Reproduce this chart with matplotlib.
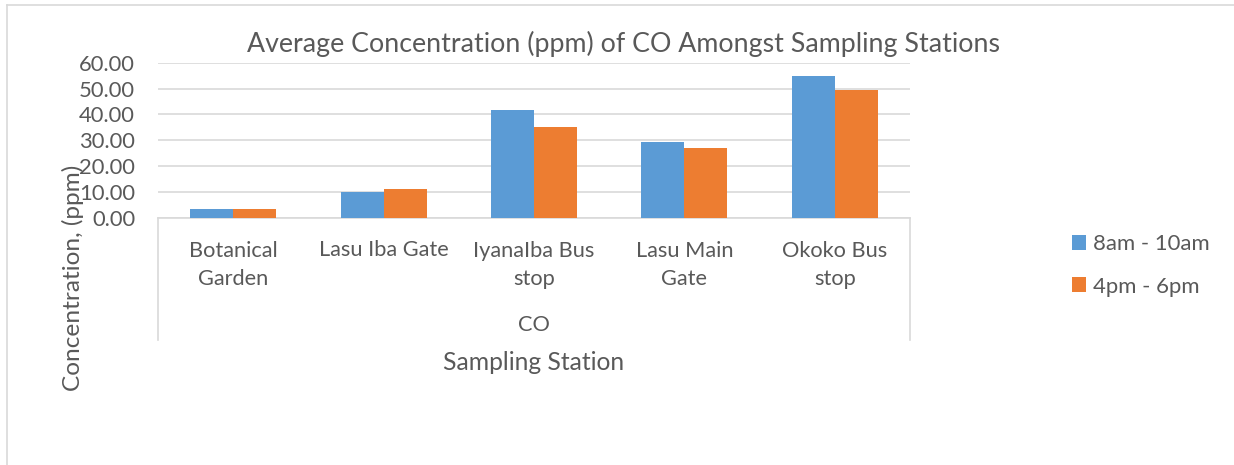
import matplotlib.pyplot as plt
import numpy as np
from matplotlib.lines import Line2D

# --- Data ---
stations = ["Botanical\nGarden", "Lasu Iba Gate", "IyanaIba Bus\nstop", "Lasu Main\nGate", "Okoko Bus\nstop"]
morning = [3.5, 10.1, 41.8, 29.4, 54.9]
evening = [3.4, 11.1, 35.0, 27.0, 49.6]
series_names = ["8am - 10am", "4pm - 6pm"]
group_label = "CO"
yticks = [0, 10, 20, 30, 40, 50, 60]

W, H = 1234, 465
BLUE = "#5B9BD5"
ORANGE = "#ED7D31"
TXT = "#595959"
GRID = "#D9D9D9"
FONT = "Lato"

plt.rcParams["font.family"] = [FONT, "DejaVu Sans"]

fig = plt.figure(figsize=(W / 100, H / 100), dpi=100)


def fx(px):
    return px / W


def fy(py):
    return 1 - py / H


# plot area in pixels
L, R, T, B = 158, 910, 62.7, 217.7
ax = fig.add_axes([fx(L), fy(B), fx(R) - fx(L), fy(T) - fy(B)])

x = np.arange(len(stations))
bw = 0.286
ax.bar(x - bw / 2, morning, bw, color=BLUE, label=series_names[0], zorder=3)
ax.bar(x + bw / 2, evening, bw, color=ORANGE, label=series_names[1], zorder=3)

ax.set_xlim(-0.5, len(stations) - 0.5)
ax.set_ylim(0, 60)
ax.set_yticks(yticks)
ax.set_yticklabels([f"{v:.2f}" for v in yticks])
ax.set_xticks([])
ax.tick_params(axis="y", length=0, pad=16.5, labelsize=15.8, labelcolor=TXT)
ax.grid(axis="y", color=GRID, linewidth=1.2, zorder=0)
for s in ["top", "right", "left"]:
    ax.spines[s].set_visible(False)
ax.spines["bottom"].set_color(GRID)
ax.spines["bottom"].set_linewidth(1.2)

# category labels (first line sits at y=250 px)
for i, name in enumerate(stations):
    cx = L + (i + 0.5) * (R - L) / len(stations)
    cy = 265 if "\n" in name else 250
    fig.text(fx(cx), fy(cy), name, ha="center", va="center", fontsize=15.7,
             color=TXT, linespacing=1.45)

# group bracket lines
for px in (L, R):
    fig.add_artist(Line2D([fx(px), fx(px)], [fy(B), fy(340)], color=GRID, linewidth=1.2))

fig.text(fx((L + R) / 2), fy(325), group_label, ha="center", va="center", fontsize=15.7, color=TXT)
fig.text(fx((L + R) / 2), fy(362), "Sampling Station", ha="center", va="center", fontsize=17.7, color=TXT)
fig.text(fx(73), fy(278), "Concentration, (ppm)", ha="center", va="center", rotation=90,
         fontsize=17.6, color=TXT)
fig.text(fx(623), fy(44), "Average Concentration (ppm) of CO Amongst Sampling Stations",
         ha="center", va="center", fontsize=19.3, color=TXT)

# legend
leg = fig.legend(loc="center left", bbox_to_anchor=(fx(1072), fy(265.5)), frameon=False,
                 fontsize=15.9, handlelength=0.64, handleheight=0.64, handletextpad=0.3,
                 labelspacing=1.0, labelcolor=TXT, borderaxespad=0, borderpad=0)

# outer border (top and left)
fig.add_artist(Line2D([fx(7), 1], [fy(5), fy(5)], color=GRID, linewidth=1.2))
fig.add_artist(Line2D([fx(7), fx(7)], [fy(5), 0], color=GRID, linewidth=1.2))

fig.savefig("out.png", dpi=100)
